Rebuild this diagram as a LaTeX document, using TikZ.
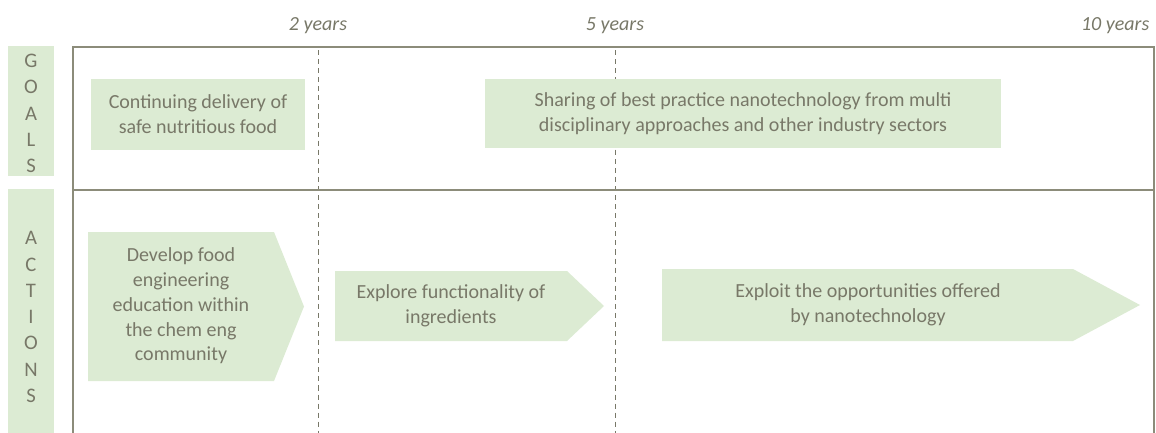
\documentclass[tikz,border=0pt]{standalone}
\usepackage{fontspec}
\setmainfont{Carlito}
\usetikzlibrary{positioning}
\definecolor{leafgreen}{RGB}{220,235,211}
\definecolor{inkgrey}{RGB}{120,120,104}
\definecolor{framegrey}{RGB}{140,140,122}

\begin{document}
\begin{tikzpicture}[x=0.75pt,y=-0.75pt,
    boxtext/.style={text=inkgrey, align=center, font=\fontsize{15}{18.6}\selectfont},
    yeartext/.style={text=inkgrey, anchor=base, font=\fontsize{15}{18}\selectfont\itshape},
    sidetext/.style={text=inkgrey, align=center, font=\fontsize{15.5}{19.7}\selectfont},
    dashline/.style={draw=inkgrey, line width=0.6pt, dash pattern=on 3.8pt off 3pt}]
    \useasboundingbox (0,0) rectangle (1156,432);
    % Time scale
    \node[yeartext] (yeartwo) at (318,30) {2 years};
    \node[yeartext] (yearfive) at (615,30) {5 years};
    \node[yeartext, anchor=base east] (yearten) at (1154,30) {10 years};
    % Frame and milestones
    \foreach \x in {318,615} {
        \draw[dashline] (\x,50) -- (\x,436);
    }
    \draw[framegrey, line width=0.9pt] (73,436) -- (73,47) -- (1154,47) -- (1154,436);
    \draw[framegrey, line width=0.9pt] (73,190) -- (1154,190);
    % Row headers
    \fill[leafgreen] (8,46) rectangle (54,176);
    \fill[leafgreen] (8,189) rectangle (54,436);
    \node[sidetext] (goals) at (31,113.5) {G\\O\\A\\L\\S};
    \node[sidetext] (actions) at (31,317) {A\\C\\T\\I\\O\\N\\S};
    % Goals
    \fill[leafgreen] (91,79) rectangle (305,150);
    \fill[leafgreen] (485,79) rectangle (1001,148);
    \node[boxtext] (goalfood) at (198,114.5) {Continuing delivery of\\safe nutritious food};
    \node[boxtext] (goalshare) at (743,113.5) {Sharing of best practice nanotechnology from multi\\disciplinary approaches and other industry sectors};
    % Actions
    \foreach \l/\t/\s/\p/\b in {88/232/274/304/381, 335/271/567/604/341, 662/269/1073/1140/341} {
        \fill[leafgreen] (\l,\t) -- (\s,\t) -- (\p,{(\t+\b)/2}) -- (\s,\b) -- (\l,\b) -- cycle;
    }
    \node[boxtext] (acteducate) at (181,306) {Develop food\\engineering\\education within\\the chem eng\\community};
    \node[boxtext] (actexplore) at (451,306) {Explore functionality of\\ingredients};
    \node[boxtext] (actexploit) at (868,305) {Exploit the opportunities offered\\by nanotechnology};
\end{tikzpicture}
\end{document}
